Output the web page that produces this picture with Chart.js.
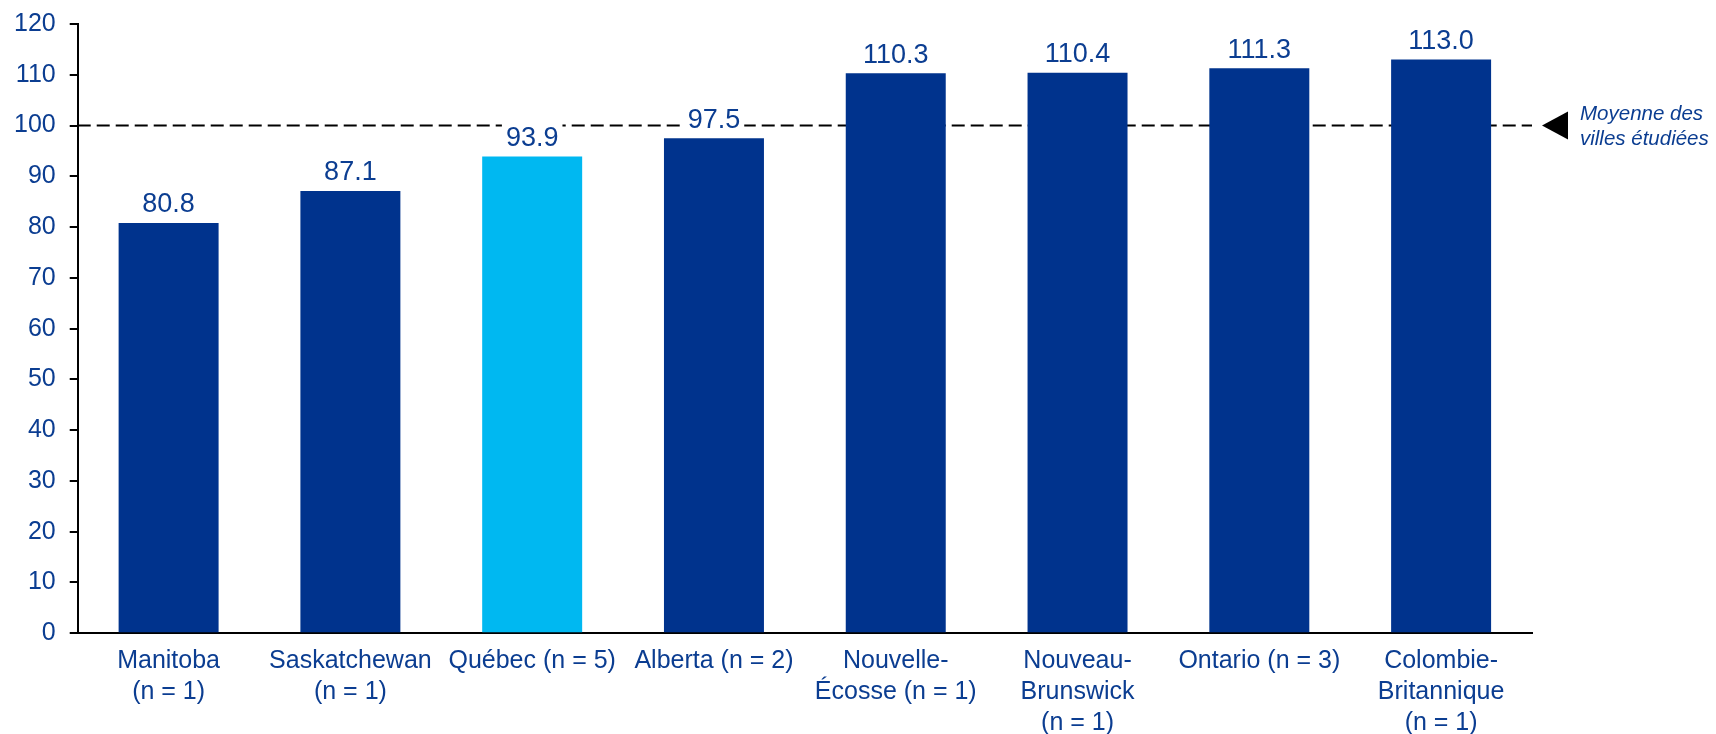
<!DOCTYPE html>
<html>
<head>
<meta charset="utf-8">
<script src="https://cdn.jsdelivr.net/npm/chart.js@4"></script>
<style>
  html, body { margin: 0; padding: 0; background: #fff; }
  #wrap { width: 1716px; height: 734px; position: relative; }
</style>
</head>
<body>
<div id="wrap"><canvas id="provChart"></canvas></div>
<script>
const provinces = [
  ['Manitoba', '(n = 1)'],
  ['Saskatchewan', '(n = 1)'],
  ['Québec (n = 5)'],
  ['Alberta (n = 2)'],
  ['Nouvelle-', 'Écosse (n = 1)'],
  ['Nouveau-', 'Brunswick', '(n = 1)'],
  ['Ontario (n = 3)'],
  ['Colombie-', 'Britannique', '(n = 1)']
];
const indexValues = [80.8, 87.1, 93.9, 97.5, 110.3, 110.4, 111.3, 113.0];
const highlighted = [false, false, true, false, false, false, false, false];
const averageValue = 100;
const averageLabel = ['Moyenne des', 'villes étudiées'];

const textBlue = '#0b3d91';
const darkBlue = '#00338d';
const lightBlue = '#00b8f1';
const fontFamily = '"Liberation Sans", Arial, sans-serif';

// dashed average line + arrow and label on the right
const averageLine = {
  id: 'averageLine',
  beforeDatasetsDraw(chart) {
    const { ctx, chartArea, scales } = chart;
    const y = scales.y.getPixelForValue(averageValue);
    ctx.save();
    ctx.strokeStyle = '#000';
    ctx.lineWidth = 2;
    ctx.setLineDash([13, 6]);
    ctx.beginPath();
    ctx.moveTo(chartArea.left, y);
    ctx.lineTo(chartArea.right, y);
    ctx.stroke();
    ctx.setLineDash([]);

    const tx = chartArea.right + 10;
    ctx.fillStyle = '#000';
    ctx.beginPath();
    ctx.moveTo(tx, y);
    ctx.lineTo(tx + 26, y - 14);
    ctx.lineTo(tx + 26, y + 14);
    ctx.closePath();
    ctx.fill();

    ctx.fillStyle = textBlue;
    ctx.font = 'italic 20.5px ' + fontFamily;
    ctx.textAlign = 'left';
    ctx.textBaseline = 'middle';
    ctx.fillText(averageLabel[0], tx + 38, y - 11);
    ctx.fillText(averageLabel[1], tx + 38, y + 14);
    ctx.restore();
  }
};

// value labels with white box above each bar
const valueLabels = {
  id: 'valueLabels',
  afterDatasetsDraw(chart) {
    const { ctx } = chart;
    const meta = chart.getDatasetMeta(0);
    ctx.save();
    ctx.font = '27px ' + fontFamily;
    ctx.textAlign = 'center';
    ctx.textBaseline = 'middle';
    meta.data.forEach((bar, i) => {
      const txt = indexValues[i].toFixed(1);
      const w = ctx.measureText(txt).width + 8;
      const cy = bar.y - 19;
      ctx.fillStyle = '#fff';
      ctx.fillRect(bar.x - w / 2, cy - 14, w, 28);
      ctx.fillStyle = textBlue;
      ctx.fillText(txt, bar.x, cy + 1);
    });
    ctx.restore();
  }
};

new Chart(document.getElementById('provChart'), {
  type: 'bar',
  data: {
    labels: provinces,
    datasets: [{
      data: indexValues,
      backgroundColor: highlighted.map(h => h ? lightBlue : darkBlue),
      borderWidth: 0,
      barPercentage: 0.55,
      categoryPercentage: 1
    }]
  },
  options: {
    responsive: true,
    maintainAspectRatio: false,
    animation: false,
    layout: { padding: { top: 0, right: 184, bottom: -17, left: 0 } },
    plugins: {
      legend: { display: false },
      tooltip: { enabled: false }
    },
    scales: {
      x: {
        border: { color: '#000', width: 2 },
        grid: { display: false, drawTicks: false },
        ticks: {
          color: textBlue,
          padding: 12,
          maxRotation: 0,
          autoSkip: false,
          font: { family: fontFamily, size: 25, lineHeight: 1.25 }
        }
      },
      y: {
        min: 0,
        max: 120,
        border: { color: '#000', width: 2 },
        grid: { drawOnChartArea: false, color: '#000', lineWidth: 2, tickLength: 8 },
        ticks: {
          stepSize: 10,
          color: textBlue,
          padding: 14,
          font: { family: fontFamily, size: 25, lineHeight: 0.8 }
        }
      }
    }
  },
  plugins: [averageLine, valueLabels]
});
</script>
</body>
</html>
